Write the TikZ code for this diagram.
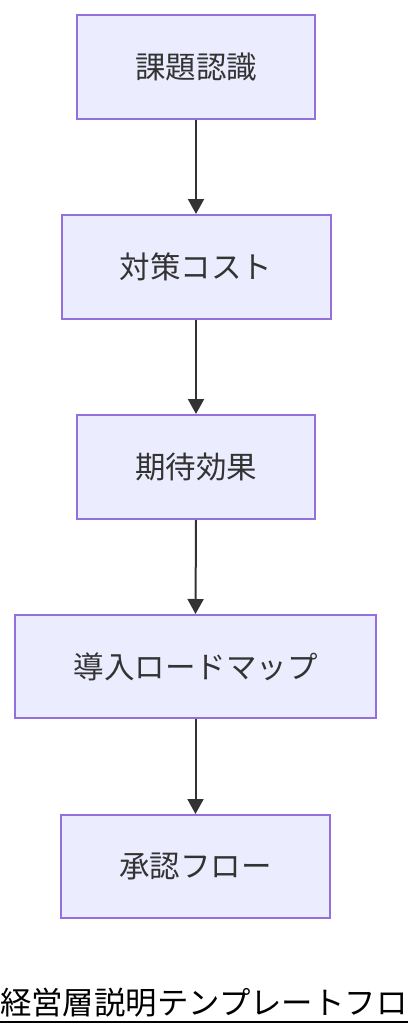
\documentclass[tikz,border=0pt]{standalone}
\usepackage{fontspec}
\setmainfont{Noto Sans CJK JP}
\usetikzlibrary{arrows.meta}
\definecolor{boxfill}{HTML}{ECECFF}
\definecolor{boxline}{HTML}{9370DB}
\definecolor{ink}{HTML}{333333}
\tikzset{
  stepbox/.style={draw=boxline, fill=boxfill, line width=2pt, minimum height=104pt,
    inner sep=0pt, text=ink, font=\fontsize{30.5}{34}\selectfont},
  flow/.style={draw=ink, line width=2pt, -{Triangle[width=16pt,length=15pt]}}
}
\begin{document}
\begin{tikzpicture}[x=1pt,y=-1pt]
\useasboundingbox (0,0) rectangle (408,1036);
\clip (0,0) rectangle (408,1036);
\node[stepbox, minimum width=238pt] (a) at (196,67) {課題認識};
\node[stepbox, minimum width=269pt] (b) at (196,267) {対策コスト};
\node[stepbox, minimum width=238pt] (c) at (196,467) {期待効果};
\node[stepbox, minimum width=361pt, minimum height=103pt] (d) at (195.5,666.5) {導入ロードマップ};
\node[stepbox, minimum width=269pt, minimum height=103pt] (e) at (195.5,866.5) {承認フロー};
\draw[flow] (a.south) -- (b.north);
\draw[flow] (b.south) -- (c.north);
\draw[flow] (c.south) -- (d.north);
\draw[flow] (d.south) -- (e.north);
\node[anchor=west, inner sep=0pt, text=black, font=\fontsize{31.4}{34}\selectfont] (t) at (0,1003) {経営層説明テンプレートフロー};
\draw[black, line width=2pt] (0,1022) -- (408,1022);
\end{tikzpicture}
\end{document}
